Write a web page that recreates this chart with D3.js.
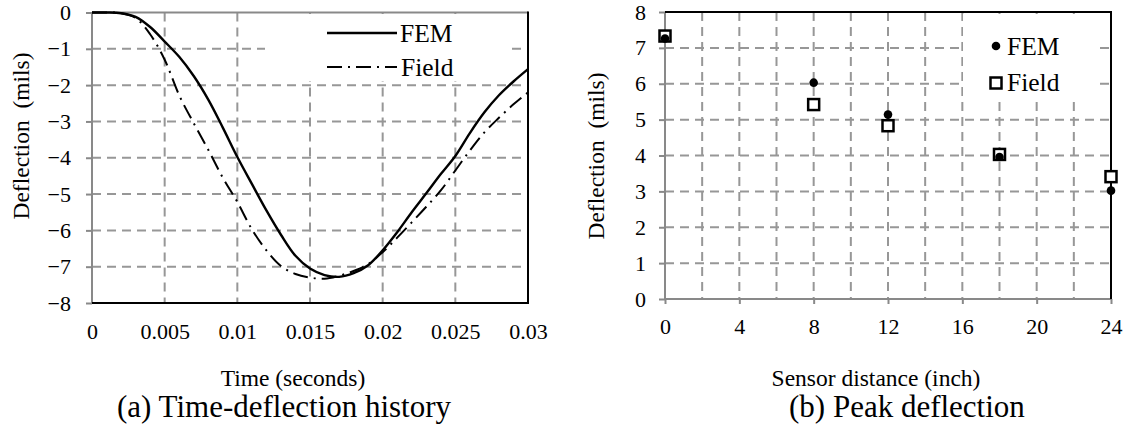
<!DOCTYPE html>
<html><head><meta charset="utf-8">
<script src="https://cdn.jsdelivr.net/npm/d3@7"></script>
<style>
body{margin:0;background:#fff;}
svg{display:block;}
text{font-family:"Liberation Serif","Times New Roman",serif;fill:#000;}
</style>
</head><body>
<svg id="c" width="1125" height="428"></svg>
<script>
// ---------- data: (a) time-deflection history ----------
const timeS = [0,0.001,0.002,0.003,0.004,0.005,0.006,0.007,0.008,0.009,0.010,0.011,0.012,0.013,0.014,0.015,
               0.016,0.017,0.018,0.019,0.020,0.021,0.022,0.023,0.024,0.025,0.026,0.027,0.028,0.029,0.030];
const femDefl = [0,0,-0.02,-0.12,-0.4,-0.8,-1.22,-1.75,-2.4,-3.17,-3.98,-4.72,-5.45,-6.12,-6.7,-7.05,
                 -7.23,-7.28,-7.18,-6.96,-6.55,-6.05,-5.5,-4.98,-4.45,-3.95,-3.32,-2.75,-2.28,-1.9,-1.56];
const fieldDefl = [0,0,-0.02,-0.15,-0.6,-1.3,-2.28,-3.05,-3.78,-4.55,-5.22,-5.97,-6.55,-6.98,-7.2,-7.3,
                   -7.33,-7.25,-7.12,-6.93,-6.6,-6.2,-5.78,-5.35,-4.9,-4.35,-3.8,-3.3,-2.9,-2.53,-2.2];
const timeTicks = [0,0.005,0.01,0.015,0.02,0.025,0.03];
const timeTickLabels = ["0","0.005","0.01","0.015","0.02","0.025","0.03"];
const deflTicksA = [0,-1,-2,-3,-4,-5,-6,-7,-8];

// ---------- data: (b) peak deflection ----------
const sensorDist = [0,8,12,18,24];
const femPeak = [7.26,6.03,5.14,3.96,3.02];
const fieldPeak = [7.33,5.42,4.83,4.03,3.41];
const distTicks = [0,4,8,12,16,20,24];
const distGrid = [2,4,6,8,10,12,14,16,18,20,22];
const peakTicks = [0,1,2,3,4,5,6,7,8];

const seriesNames = ["FEM","Field"];

const svg = d3.select("#c");
const GRID = "#979797", AXIS = "#898989";
const TICK_FS = 22, TITLE_FS = 23.5, LEG_FS = 25.5, CAP_FS = 31;

// ================= chart (a) =================
const xa = d3.scaleLinear().domain([0,0.03]).range([92,528]);
const ya = d3.scaleLinear().domain([-8,0]).range([303,12.5]);
const ga = svg.append("g");

ga.selectAll(".hg").data(deflTicksA.filter(d=>d<0 && d>-8)).join("line")
  .attr("x1",xa(0)).attr("x2",xa(0.03)).attr("y1",d=>ya(d)).attr("y2",d=>ya(d))
  .attr("stroke",GRID).attr("stroke-width",2).attr("stroke-dasharray","9,6");
ga.selectAll(".vg").data(timeTicks.filter(d=>d>0 && d<0.03)).join("line")
  .attr("y1",ya(0)).attr("y2",ya(-8)).attr("x1",d=>xa(d)).attr("x2",d=>xa(d))
  .attr("stroke",GRID).attr("stroke-width",2).attr("stroke-dasharray","9,6");

ga.append("rect").attr("x",265).attr("y",14).attr("width",246).attr("height",67).attr("fill","#fff");

ga.append("line").attr("x1",xa(0)).attr("x2",xa(0.03)).attr("y1",ya(0)).attr("y2",ya(0)).attr("stroke",AXIS).attr("stroke-width",2);
ga.append("line").attr("x1",xa(0)).attr("x2",xa(0)).attr("y1",ya(0)).attr("y2",ya(-8)).attr("stroke",AXIS).attr("stroke-width",2);
ga.append("line").attr("x1",xa(0.03)).attr("x2",xa(0.03)).attr("y1",ya(0)-1).attr("y2",ya(-8)).attr("stroke","#000").attr("stroke-width",2);
ga.append("line").attr("x1",xa(0)).attr("x2",xa(0.03)+1).attr("y1",ya(-8)).attr("y2",ya(-8)).attr("stroke","#000").attr("stroke-width",2.2);

const yAxA = d3.axisLeft(ya).tickValues(deflTicksA).tickSize(6).tickPadding(15).tickFormat(d3.format("d"));
const gya = ga.append("g").attr("transform",`translate(${xa(0)},0)`).call(yAxA);
gya.select(".domain").remove();
gya.selectAll(".tick line").attr("stroke",AXIS).attr("stroke-width",2);
gya.selectAll(".tick text").attr("font-size",TICK_FS).attr("fill","#000");

const xAxA = d3.axisBottom(xa).tickValues(timeTicks).tickSize(0).tickPadding(20)
  .tickFormat((d,i)=>timeTickLabels[i]);
const gxa = ga.append("g").attr("transform",`translate(0,${ya(-8)})`).call(xAxA);
gxa.select(".domain").remove();
gxa.selectAll(".tick text").attr("font-size",TICK_FS).attr("fill","#000");

const lineA = (vals)=> d3.line().x((d,i)=>xa(timeS[i])).y(d=>ya(d)).curve(d3.curveCatmullRom)(vals);
ga.append("path").attr("d",lineA(fieldDefl)).attr("fill","none").attr("stroke","#000")
  .attr("stroke-width",2).attr("stroke-dasharray","15,6,2,6");
ga.append("path").attr("d",lineA(femDefl)).attr("fill","none").attr("stroke","#000").attr("stroke-width",2.4);

ga.append("line").attr("x1",327).attr("x2",397).attr("y1",33).attr("y2",33).attr("stroke","#000").attr("stroke-width",2.4);
ga.append("line").attr("x1",327).attr("x2",397).attr("y1",67).attr("y2",67).attr("stroke","#000").attr("stroke-width",2).attr("stroke-dasharray","15,6,2,6");
ga.append("text").attr("x",400).attr("y",42).attr("font-size",LEG_FS).text(seriesNames[0]);
ga.append("text").attr("x",401).attr("y",76).attr("font-size",LEG_FS).text(seriesNames[1]);

ga.append("text").attr("transform","translate(29,136) rotate(-90)").attr("text-anchor","middle")
  .attr("font-size",TITLE_FS).attr("xml:space","preserve").text("Deflection  (mils)");
ga.append("text").attr("x",293).attr("y",386).attr("text-anchor","middle").attr("font-size",TITLE_FS).text("Time (seconds)");
ga.append("text").attr("x",117).attr("y",417).attr("font-size",CAP_FS).text("(a) Time-deflection history");

// ================= chart (b) =================
const xb = d3.scaleLinear().domain([0,24]).range([665,1111]);
const yb = d3.scaleLinear().domain([0,8]).range([299,12]);
const gb = svg.append("g");

gb.selectAll(".hg").data(peakTicks.filter(d=>d>0 && d<8)).join("line")
  .attr("x1",xb(0)).attr("x2",xb(24)).attr("y1",d=>yb(d)).attr("y2",d=>yb(d))
  .attr("stroke",GRID).attr("stroke-width",2).attr("stroke-dasharray","9,6");
gb.selectAll(".vg").data(distGrid).join("line")
  .attr("y1",yb(8)).attr("y2",yb(0)).attr("x1",d=>xb(d)).attr("x2",d=>xb(d))
  .attr("stroke",GRID).attr("stroke-width",2).attr("stroke-dasharray","9,6");

gb.append("rect").attr("x",963).attr("y",14).attr("width",134).attr("height",86).attr("fill","#fff");

gb.append("line").attr("x1",xb(0)).attr("x2",xb(0)).attr("y1",yb(8)).attr("y2",yb(0)).attr("stroke",AXIS).attr("stroke-width",2);
gb.append("line").attr("x1",xb(0)).attr("x2",xb(24)).attr("y1",yb(0)).attr("y2",yb(0)).attr("stroke",AXIS).attr("stroke-width",2);
gb.append("line").attr("x1",xb(0)).attr("x2",xb(24)+1).attr("y1",yb(8)).attr("y2",yb(8)).attr("stroke","#000").attr("stroke-width",2);
gb.append("line").attr("x1",xb(24)).attr("x2",xb(24)).attr("y1",yb(8)).attr("y2",yb(0)).attr("stroke","#000").attr("stroke-width",2);

const yAxB = d3.axisLeft(yb).tickValues(peakTicks).tickSize(6).tickPadding(13).tickFormat(d3.format("d"));
const gyb = gb.append("g").attr("transform",`translate(${xb(0)},0)`).call(yAxB);
gyb.select(".domain").remove();
gyb.selectAll(".tick line").attr("stroke",AXIS).attr("stroke-width",2);
gyb.selectAll(".tick text").attr("font-size",TICK_FS).attr("fill","#000");

const gxb = gb.append("g").attr("transform",`translate(0,${yb(0)})`)
  .call(d3.axisBottom(xb).tickValues(distTicks).tickSize(5).tickPadding(14).tickFormat(d3.format("d")));
gxb.select(".domain").remove();
gxb.selectAll(".tick line").attr("stroke",AXIS).attr("stroke-width",2);
gxb.selectAll(".tick text").attr("font-size",TICK_FS).attr("fill","#000");

const SQ = 11;
gb.selectAll(".sq").data(fieldPeak).join("rect")
  .attr("x",(d,i)=>xb(sensorDist[i])-SQ/2).attr("y",d=>yb(d)-SQ/2).attr("width",SQ).attr("height",SQ)
  .attr("fill","#fff").attr("stroke","#000").attr("stroke-width",2.5);
gb.selectAll(".ci").data(femPeak).join("circle")
  .attr("cx",(d,i)=>xb(sensorDist[i])).attr("cy",d=>yb(d)).attr("r",4.3).attr("fill","#000");

gb.append("circle").attr("cx",996).attr("cy",46).attr("r",4.3).attr("fill","#000");
gb.append("rect").attr("x",996-SQ/2).attr("y",83-SQ/2).attr("width",SQ).attr("height",SQ)
  .attr("fill","#fff").attr("stroke","#000").attr("stroke-width",2.5);
gb.append("text").attr("x",1007).attr("y",55).attr("font-size",LEG_FS).text(seriesNames[0]);
gb.append("text").attr("x",1007).attr("y",91).attr("font-size",LEG_FS).text(seriesNames[1]);

gb.append("text").attr("transform","translate(604,156) rotate(-90)").attr("text-anchor","middle")
  .attr("font-size",TITLE_FS).attr("xml:space","preserve").text("Deflection  (mils)");
gb.append("text").attr("x",876).attr("y",386).attr("text-anchor","middle").attr("font-size",TITLE_FS).text("Sensor distance (inch)");
gb.append("text").attr("x",789).attr("y",417).attr("font-size",CAP_FS).text("(b) Peak deflection");
</script>
</body></html>
